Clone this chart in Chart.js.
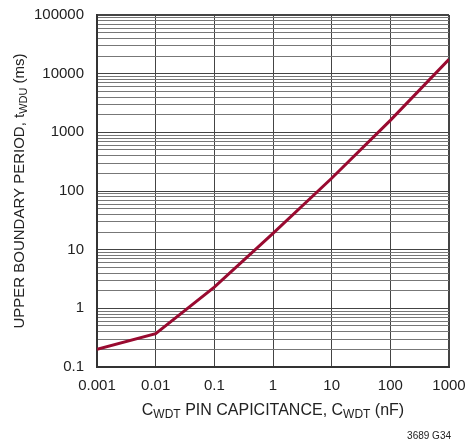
<!DOCTYPE html>
<html>
<head>
<meta charset="utf-8">
<script src="https://cdn.jsdelivr.net/npm/chart.js@4/dist/chart.umd.min.js"></script>
<style>
  body { margin: 0; background: #fff; }
  #wrap { width: 469px; height: 442px; position: relative; }
</style>
</head>
<body>
<div id="wrap"><canvas id="chart"></canvas></div>
<script>
// capacitance (nF) vs upper boundary period (ms)
const capValues = [0.001, 0.01, 0.1, 1, 10, 100, 1000];
const periodValues = [0.2, 0.37, 2.3, 19, 165, 1600, 17500];

const xTickLabels = [0.001, 0.01, 0.1, 1, 10, 100, 1000];
const yTickLabels = [0.1, 1, 10, 100, 1000, 10000, 100000];
const minorSteps = [2, 3, 4, 5, 6, 7, 8, 9];

const FONT = '"Liberation Sans", Arial, sans-serif';
const LINE_RED = '#990a30';

document.addEventListener('DOMContentLoaded', () => {
    const isDecade = v => Math.abs(Math.log10(v) - Math.round(Math.log10(v))) < 1e-6;

    const yTicks = [];
    yTickLabels.forEach((d, i) => {
        yTicks.push(d);
        if (i < yTickLabels.length - 1) minorSteps.forEach(m => yTicks.push(+(d * m).toPrecision(6)));
    });

    // draws a title made of normal text and subscript pieces
    function drawParts(ctx, parts, x, y, size) {
        const main = size + 'px ' + FONT, sub = Math.round(size * 0.73) + 'px ' + FONT;
        let width = 0;
        parts.forEach(p => { ctx.font = p[1] ? sub : main; width += ctx.measureText(p[0]).width; });
        let cx = x - width / 2;
        parts.forEach(p => {
            ctx.font = p[1] ? sub : main;
            ctx.fillText(p[0], cx, p[1] ? y + 4 : y);
            cx += ctx.measureText(p[0]).width;
        });
    }

    const titlePlugin = {
        id: 'titles',
        afterDraw(chart) {
            const ctx = chart.ctx;
            const area = chart.chartArea;
            ctx.save();
            ctx.fillStyle = '#222';
            ctx.textBaseline = 'middle';
            ctx.textAlign = 'left';
            drawParts(ctx, [['C', 0], ['WDT', 1], [' PIN CAPICITANCE, C', 0], ['WDT', 1], [' (nF)', 0]],
                (area.left + area.right) / 2, 411, 16);

            ctx.save();
            ctx.translate(20, (area.top + area.bottom) / 2);
            ctx.rotate(-Math.PI / 2);
            drawParts(ctx, [['UPPER BOUNDARY PERIOD, t', 0], ['WDU', 1], [' (ms)', 0]], 0, 0, 15);
            ctx.restore();

            ctx.font = '10px ' + FONT;
            ctx.textAlign = 'right';
            ctx.fillText('3689 G34', 451, 436);
            ctx.restore();
        }
    };

    new Chart(document.getElementById('chart'), {
        type: 'line',
        data: {
            datasets: [{
                data: capValues.map((c, i) => ({ x: c, y: periodValues[i] })),
                borderColor: LINE_RED,
                borderWidth: 3,
                pointRadius: 0,
                tension: 0
            }]
        },
        options: {
            responsive: true,
            maintainAspectRatio: false,
            animation: false,
            layout: { padding: { top: 15, right: 20, left: 0, bottom: 0 } },
            plugins: { legend: { display: false }, tooltip: { enabled: false } },
            scales: {
                x: {
                    type: 'logarithmic',
                    min: 0.001,
                    max: 1000,
                    afterBuildTicks: s => { s.ticks = xTickLabels.map(v => ({ value: v })); },
                    afterFit: s => { s.height = 75; s.paddingLeft = 0; s.paddingRight = 0; },
                    ticks: {
                        autoSkip: false,
                        maxRotation: 0,
                        padding: 10,
                        color: '#222',
                        font: { family: FONT, size: 15 },
                        callback: v => String(v)
                    },
                    grid: {
                        drawTicks: false,
                        color: '#444',
                        lineWidth: c => (c.index === xTickLabels.length - 1 ? 2 : 1)
                    },
                    border: { color: '#333', width: 2 }
                },
                y: {
                    type: 'logarithmic',
                    min: 0.1,
                    max: 100000,
                    afterBuildTicks: s => { s.ticks = yTicks.map(v => ({ value: v })); },
                    afterFit: s => { s.width = 97; s.paddingTop = 0; s.paddingBottom = 0; },
                    ticks: {
                        autoSkip: false,
                        padding: 13,
                        color: '#222',
                        font: { family: FONT, size: 15 },
                        callback: v => (isDecade(v) ? String(v) : '')
                    },
                    grid: {
                        drawTicks: false,
                        color: c => (c.tick && isDecade(c.tick.value) ? '#444' : '#777'),
                        lineWidth: c => (c.tick && c.tick.value === 100000 ? 2 : 1)
                    },
                    border: { color: '#333', width: 2 }
                }
            }
        },
        plugins: [titlePlugin]
    });
});
</script>
</body>
</html>
